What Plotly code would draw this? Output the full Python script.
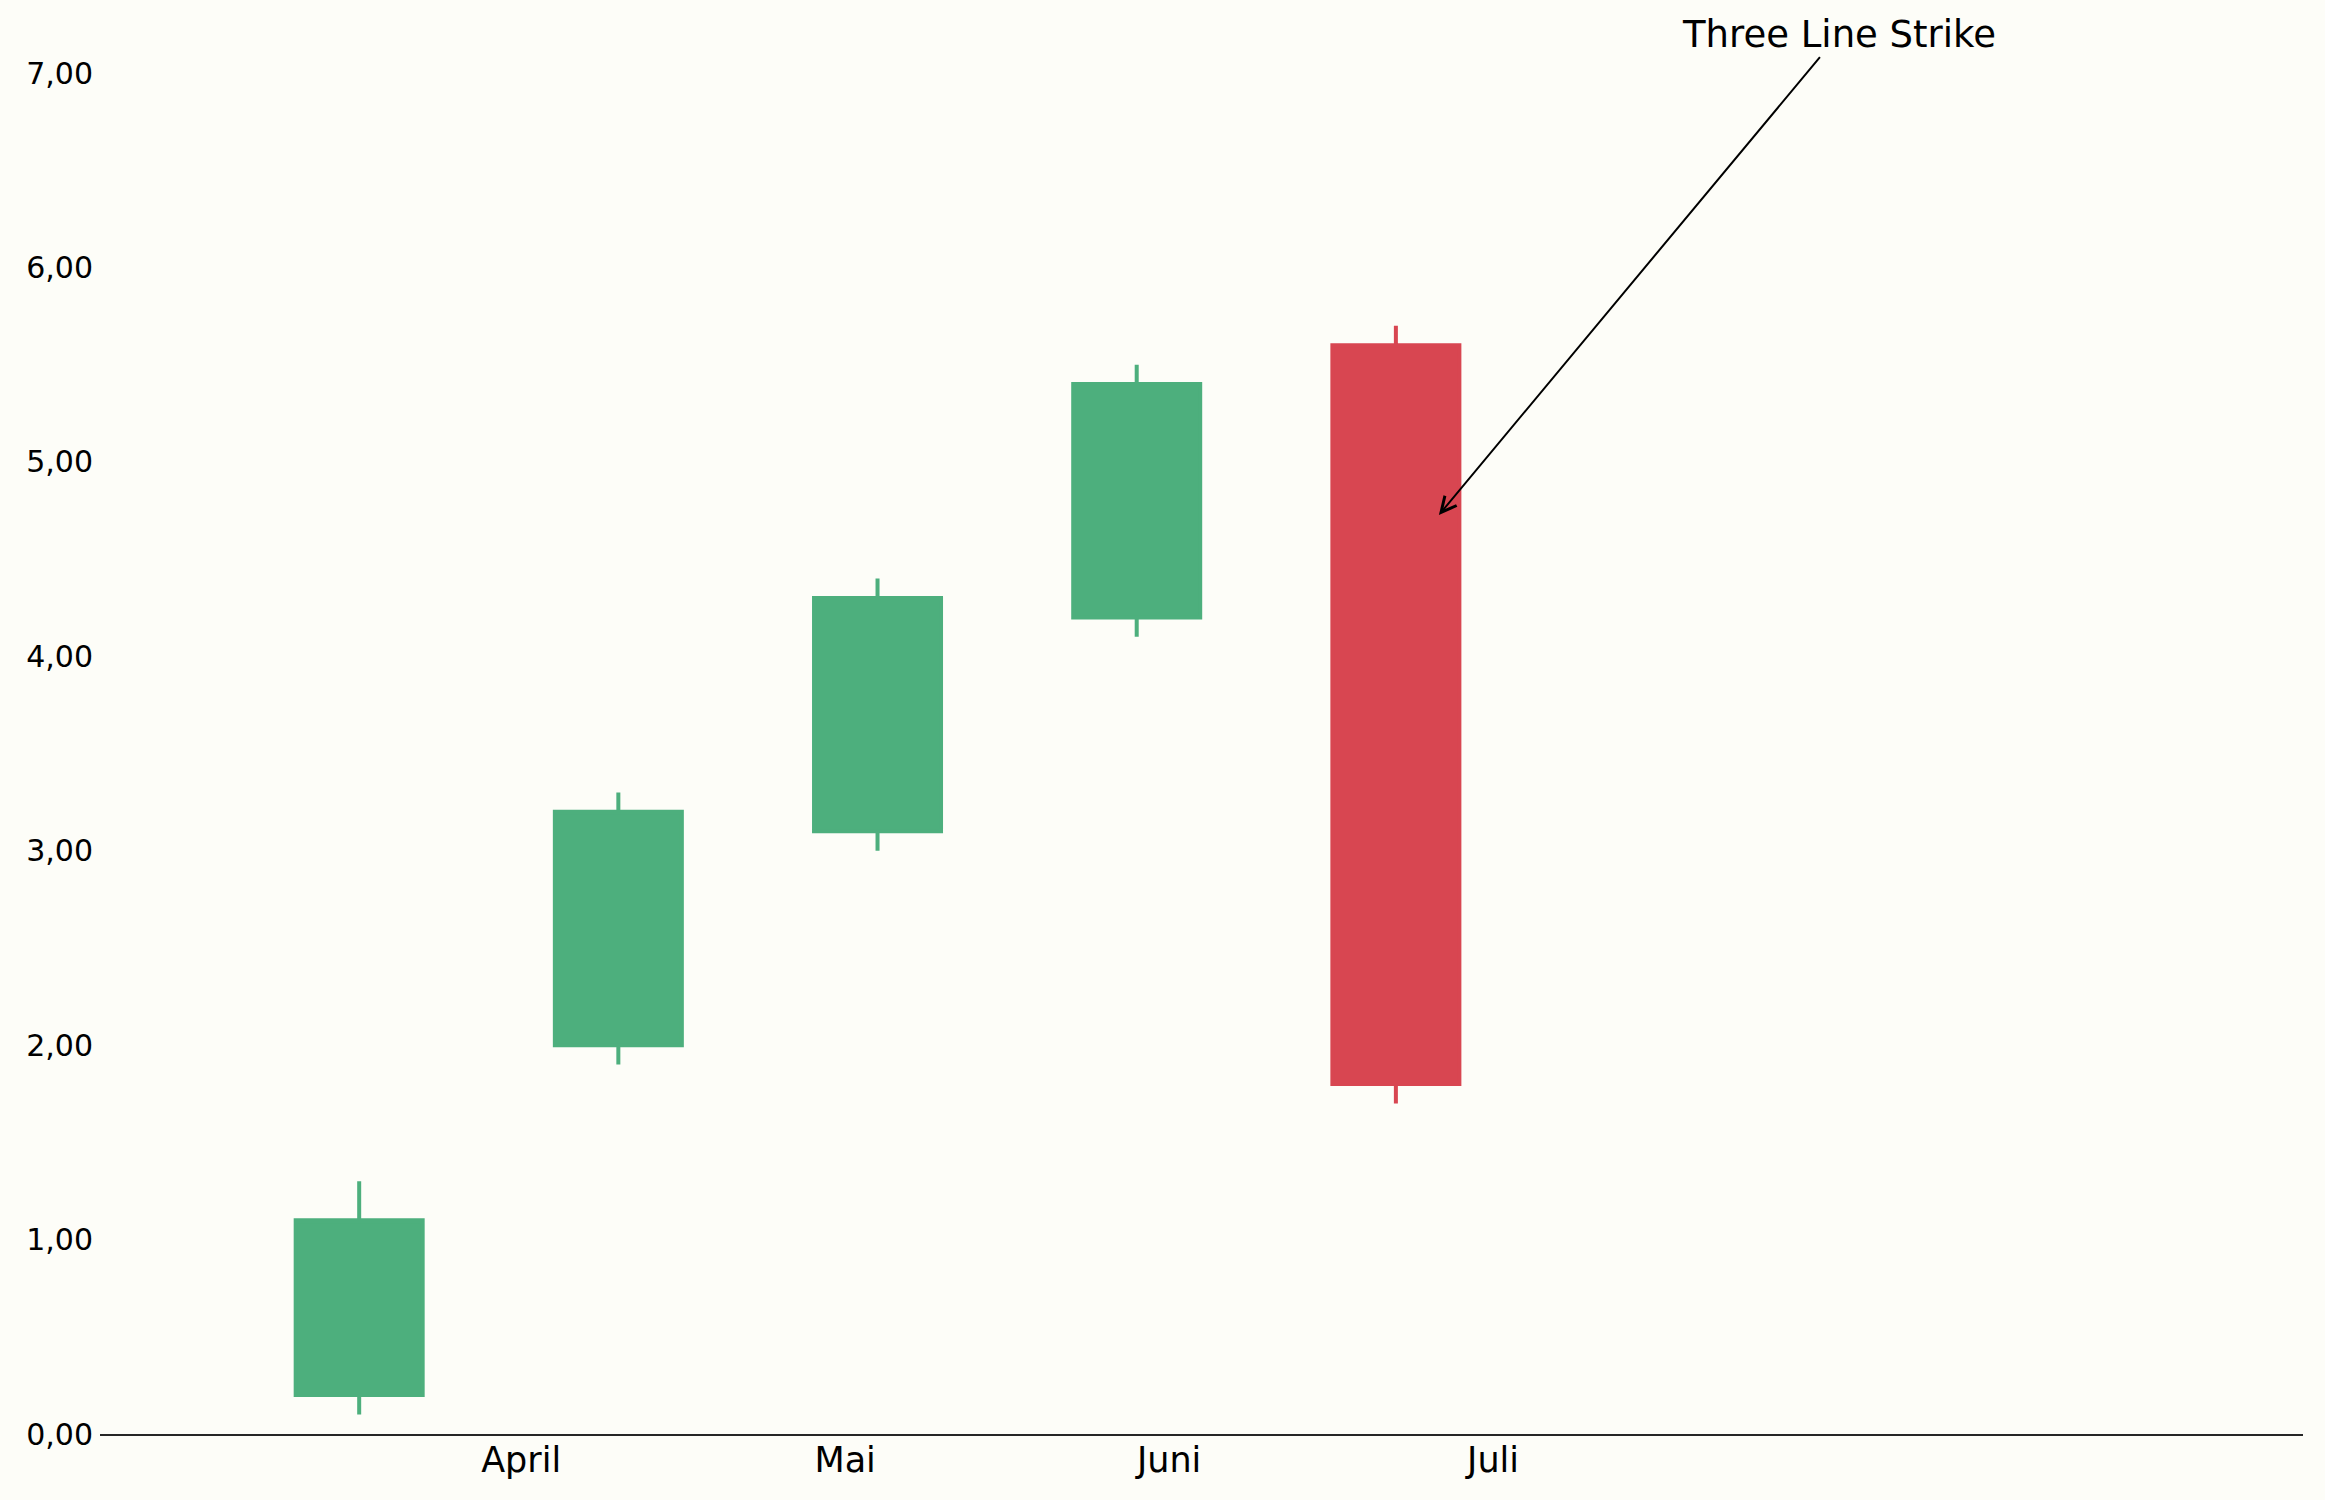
import plotly.graph_objects as go

# candle positions (one per period) and OHLC values
periods = [0, 1, 2, 3, 4]
opens = [0.2, 2.0, 3.1, 4.2, 5.6]
highs = [1.3, 3.3, 4.4, 5.5, 5.7]
lows = [0.1, 1.9, 3.0, 4.1, 1.7]
closes = [1.1, 3.2, 4.3, 5.4, 1.8]

# month ticks sit between the candles
month_pos = [0.625, 1.875, 3.125, 4.375]
month_names = ['April', 'Mai', 'Juni', 'Juli']

y_ticks = [0, 1, 2, 3, 4, 5, 6, 7]

GREEN = '#4daf7d'
RED = '#d84651'
BG = '#fdfdf8'

fig = go.Figure(go.Candlestick(
    x=periods, open=opens, high=highs, low=lows, close=closes,
    increasing=dict(line=dict(color=GREEN, width=4), fillcolor=GREEN),
    decreasing=dict(line=dict(color=RED, width=4), fillcolor=RED),
    showlegend=False,
))

# annotation pointing at the big red candle
fig.add_annotation(
    x=4.166, y=4.727, xref='x', yref='y',
    ax=5.71, ay=7.2, axref='x', ayref='y',
    text='Three Line Strike', showarrow=True,
    arrowhead=5, arrowsize=1.5, arrowwidth=2, arrowcolor='black',
    font=dict(family='DejaVu Sans', size=37, color='black'),
)

fig.update_layout(
    width=2325, height=1500,
    margin=dict(l=100, r=22, t=73, b=66),
    paper_bgcolor=BG, plot_bgcolor=BG,
    separators=',.',
    font=dict(family='DejaVu Sans', color='black'),
    xaxis=dict(
        range=[-1, 7.5], rangeslider=dict(visible=False),
        tickvals=month_pos, ticktext=month_names,
        tickfont=dict(size=35), showgrid=False, zeroline=False,
        showline=True, linecolor='#262626', linewidth=2, ticks='',
        ticklabelstandoff=-6,
    ),
    yaxis=dict(
        range=[0, 7], tickvals=y_ticks, tickformat='.2f',
        tickfont=dict(size=30), showgrid=False, zeroline=False,
        showline=False, ticks='', ticklabelstandoff=6,
    ),
)

# drop the default page margin so the figure fills the window
fig.write_html("out.html", config={'displayModeBar': False},
               post_script="document.body.style.margin='0';document.body.style.background='#fdfdf8';")
